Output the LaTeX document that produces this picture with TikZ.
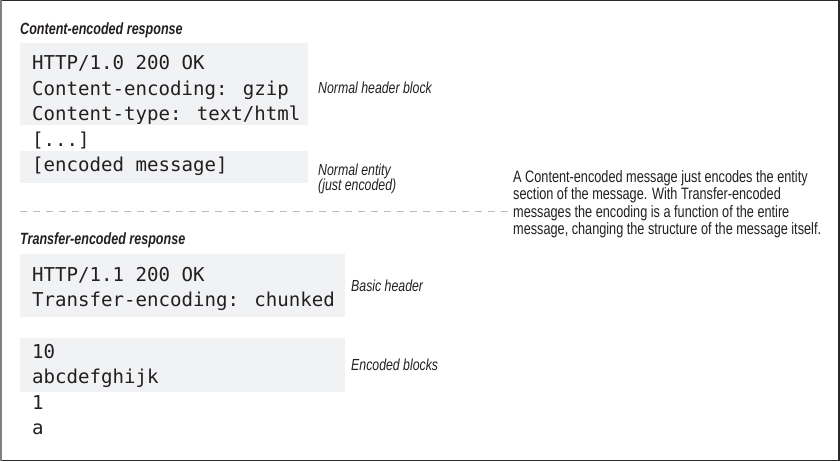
\documentclass[tikz,border=0pt]{standalone}
\usepackage{fontspec}
\newfontfamily\cond[FakeStretch=0.77]{Liberation Sans}
\newfontfamily\mono{DejaVu Sans Mono}
\definecolor{boxgray}{HTML}{F1F2F4}
\definecolor{ink}{HTML}{231F20}
\definecolor{dashgray}{HTML}{BBBBBB}
\definecolor{framegray}{HTML}{2A2A2A}
\begin{document}
\begin{tikzpicture}[x=1pt,y=-1pt,
  box/.style={fill=boxgray, inner sep=0, outer sep=0, anchor=north west},
  code/.style={anchor=base west, inner sep=0, text=ink, font=\mono\fontsize{19.1}{23}\selectfont},
  heading/.style={anchor=base west, inner sep=0, text=ink, font=\cond\bfseries\itshape\fontsize{16.3}{18}\selectfont},
  note/.style={anchor=base west, inner sep=0, text=ink, font=\cond\itshape\fontsize{16}{16}\selectfont},
  para/.style={anchor=base west, inner sep=0, text=ink, font=\cond\fontsize{16.5}{17.5}\selectfont},
  sep/.style={draw=dashgray, line width=0.9pt, dash pattern=on 7pt off 6pt}]
\useasboundingbox (0,0) rectangle (840,462);
% frame
\draw[framegray, line width=1.5pt] (1,0.75) -- (838.75,0.75) -- (838.75,460.6) -- (1,460.6);
\draw[gray, line width=2pt] (1,0) -- (1,461.4);
% grey boxes
\node[box, minimum width=287.5pt, minimum height=82pt] (b1) at (20,43) {};
\node[box, minimum width=287.5pt, minimum height=32pt] (b2) at (20,151) {};
\node[box, minimum width=325pt, minimum height=63pt] (b3) at (20,254) {};
\node[box, minimum width=325pt, minimum height=54pt] (b4) at (20,338) {};
% headings
\node[heading] (h1) at (20,35) {Content-encoded response};
\node[heading] (h2) at (20,245) {Transfer-encoded response};
% content-encoded response
\node[code] (c1) at (32,70) {HTTP/1.0 200 OK};
\node[code] (c2) at (32,95.5) {Content-encoding: gzip};
\node[code] (c3) at (32,121) {Content-type: text/html};
\node[code] (c4) at (32,146.5) {[...]};
\node[code] (c5) at (32,172) {[encoded message]};
\node[note] (n1) at (318,94) {Normal header block};
\node[note] (n2) at (318,175.5) {Normal entity};
\node[note] (n3) at (318,191) {(just encoded)};
% separator
\coordinate (s1) at (20,211);
\coordinate (s2) at (508,211);
\draw[sep] (s1) -- (s2);
% explanation
\node[para] (p1) at (513,182.5) {A Content-encoded message just encodes the entity};
\node[para] (p2) at (513,200) {section of the message. With Transfer-encoded};
\node[para] (p3) at (513,217.5) {messages the encoding is a function of the entire};
\node[para] (p4) at (513,235) {message, changing the structure of the message itself.};
% transfer-encoded response
\node[code] (t1) at (32,281) {HTTP/1.1 200 OK};
\node[code] (t2) at (32,306) {Transfer-encoding: chunked};
\node[note] (n4) at (351,291.5) {Basic header};
\node[code] (t3) at (32,358) {10};
\node[code] (t4) at (32,383.5) {abcdefghijk};
\node[code] (t5) at (32,409) {1};
\node[code] (t6) at (32,434.5) {a};
\node[note] (n5) at (351,370) {Encoded blocks};
\end{tikzpicture}
\end{document}
